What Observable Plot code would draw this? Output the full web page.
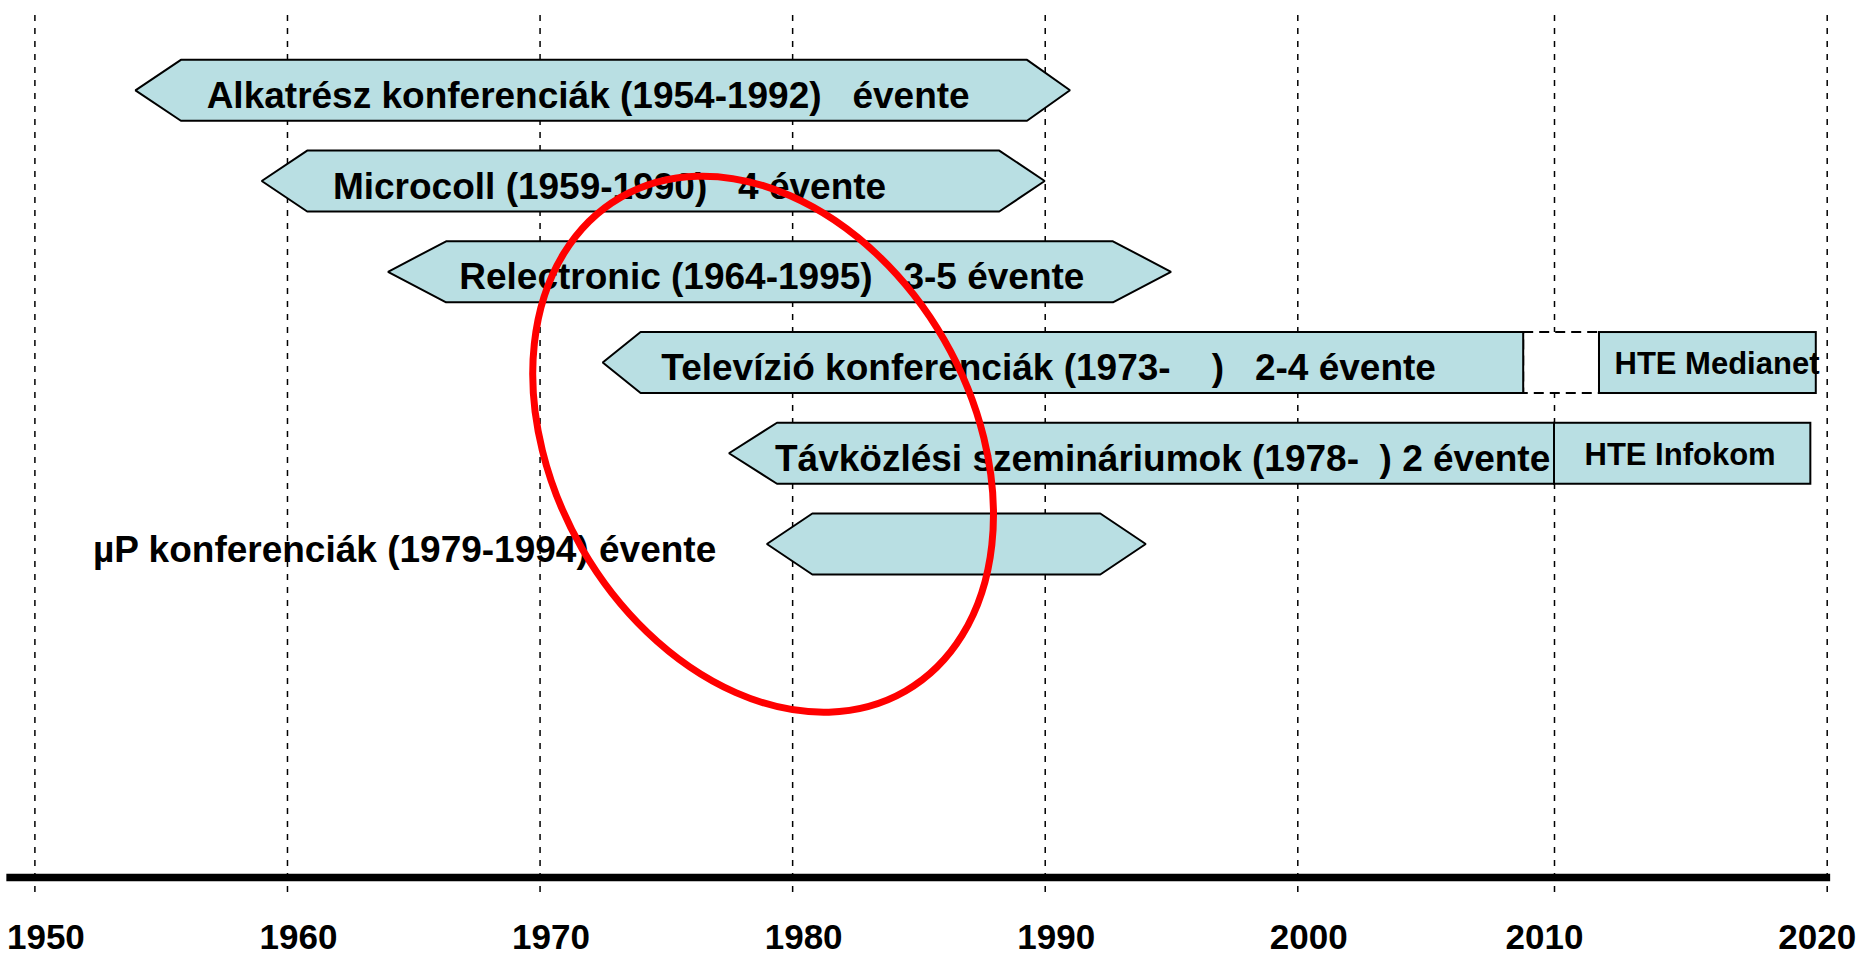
<!DOCTYPE html>
<html>
<head>
<meta charset="utf-8">
<script src="https://cdn.jsdelivr.net/npm/d3@7"></script>
<script src="https://cdn.jsdelivr.net/npm/@observablehq/plot@0.6"></script>
<style>
  body { margin: 0; background: #fff; }
  svg text { white-space: pre; }
</style>
</head>
<body>
<div id="chart"></div>
<script>
// ---- data (years on x, row index on y) ----
const decades = [1950, 1960, 1970, 1980, 1990, 2000, 2010, 2020];

const barLabels = [
  "Alkatrész konferenciák (1954-1992)   évente",
  "Microcoll (1959-1990)   4 évente",
  "Relectronic (1964-1995)   3-5 évente",
  "Televízió konferenciák (1973-    )   2-4 évente",
  "Távközlési szemináriumok (1978-  ) 2 évente",
  "µP konferenciák (1979-1994) évente"
];
const barRow     = [0, 1, 2, 3, 4, 5];
const leftTip    = [1954.0, 1959.0, 1964.0, 1972.5, 1977.5, 1979.0];
const bodyStart  = [1955.8, 1960.8, 1966.3, 1974.0, 1979.4, 1980.8];
const bodyEnd    = [1989.3, 1988.2, 1992.7, 2008.8, 2010.0, 1992.2];
const rightTip   = [1991.0, 1990.0, 1995.0, null, null, 1994.0];
const labelStart = [1956.8, 1961.8, 1966.8, 1974.8, 1979.3, 1952.3];

const extLabels     = ["HTE Medianet", "HTE Infokom"];
const extRow        = [3, 4];
const extStart      = [2011.65, 2010.0];
const extEnd        = [2019.6, 2019.4];
const extLabelStart = [2012.2, 2011.1];

const highlightYear = 1978.85;
const highlightRow  = 3.9;

// ---- build shapes from the data ----
const HALF = 0.336;           // half bar thickness, in rows
const FILL = "#b9dfe3";
const outline = [];
barLabels.forEach((_, i) => {
  const r = barRow[i];
  if (leftTip[i] != null) outline.push({bar: i, x: leftTip[i], y1: r, y2: r});
  outline.push({bar: i, x: bodyStart[i], y1: r - HALF, y2: r + HALF});
  outline.push({bar: i, x: bodyEnd[i], y1: r - HALF, y2: r + HALF});
  if (rightTip[i] != null) outline.push({bar: i, x: rightTip[i], y1: r, y2: r});
});
const extIdx = extLabels.map((_, i) => i);

function highlightEllipse(index, scales) {
  const ns = "http://www.w3.org/2000/svg";
  const g = document.createElementNS(ns, "g");
  const e = document.createElementNS(ns, "ellipse");
  const cx = scales.x(highlightYear), cy = scales.y(highlightRow);
  e.setAttribute("cx", cx);
  e.setAttribute("cy", cy);
  e.setAttribute("rx", 285);
  e.setAttribute("ry", 209);
  e.setAttribute("transform", `rotate(60 ${cx} ${cy})`);
  e.setAttribute("fill", "none");
  e.setAttribute("stroke", "#ff0000");
  e.setAttribute("stroke-width", 7);
  g.appendChild(e);
  return g;
}

const axisCommon = {
  anchor: "bottom", tickSize: 0, tickPadding: 47, fontSize: 35, fontWeight: "bold",
  fill: "black", label: null, tickFormat: d => String(d)
};

const chart = Plot.plot({
  width: 1856,
  height: 957,
  marginTop: 15,
  marginLeft: 9.5,
  marginRight: 30,
  marginBottom: 80,
  style: "font-family: 'Liberation Sans', Arial, sans-serif; background: white; color: black; white-space: pre;",
  x: {type: "linear", domain: [1950, 2000, 2010, 2020], range: [34.4, 1297.3, 1554, 1826.7]},
  y: {type: "linear", domain: [0, 5], range: [90.3, 544], axis: null},
  marks: [
    Plot.ruleX(decades, {stroke: "black", strokeWidth: 1.5, strokeDasharray: "6,7", insetBottom: -15}),
    // dashed gap box on the Televízió row
    Plot.rect([0], {
      x1: () => bodyEnd[3], x2: () => extStart[0],
      y1: () => barRow[3] - HALF, y2: () => barRow[3] + HALF,
      fill: "white", stroke: "black", strokeWidth: 2, strokeDasharray: "10,6"
    }),
    Plot.areaY(outline, {
      x: "x", y1: "y1", y2: "y2", z: "bar", curve: "linear",
      fill: FILL, stroke: "black", strokeWidth: 2, strokeLinejoin: "miter"
    }),
    Plot.rect(extIdx, {
      x1: i => extStart[i], x2: i => extEnd[i],
      y1: i => extRow[i] - HALF, y2: i => extRow[i] + HALF,
      fill: FILL, stroke: "black", strokeWidth: 2
    }),
    Plot.text(barLabels, {
      x: (d, i) => labelStart[i], y: (d, i) => barRow[i], text: d => d,
      textAnchor: "start", lineAnchor: "bottom", dy: 17,
      fontSize: 37, fontWeight: "bold", fill: "black"
    }),
    Plot.text(extLabels, {
      x: (d, i) => extLabelStart[i], y: (d, i) => extRow[i], text: d => d,
      textAnchor: "start", lineAnchor: "bottom", dy: 11,
      fontSize: 31, fontWeight: "bold", fill: "black"
    }),
    Plot.frame({anchor: "bottom", stroke: "black", strokeWidth: 7.3}),
    Plot.axisX(decades.slice(0, 6), {...axisCommon, dx: 11}),
    Plot.axisX(decades.slice(6), {...axisCommon, dx: -10}),
    highlightEllipse
  ]
});
document.getElementById("chart").appendChild(chart);
</script>
</body>
</html>
